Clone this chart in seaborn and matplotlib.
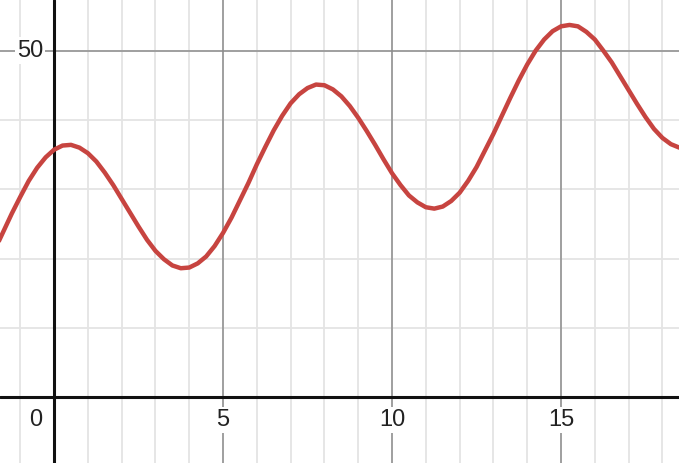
import matplotlib
matplotlib.use("Agg")
import matplotlib.pyplot as plt
import pandas as pd
import seaborn as sns

x_vals = [-2.0, -1.75, -1.5, -1.25, -1.0, -0.75, -0.5, -0.25,
          0.0, 0.25, 0.5, 0.75, 1.0, 1.25, 1.5, 1.75,
          2.0, 2.25, 2.5, 2.75, 3.0, 3.25, 3.5, 3.75,
          4.0, 4.25, 4.5, 4.75, 5.0, 5.25, 5.5, 5.75,
          6.0, 6.25, 6.5, 6.75, 7.0, 7.25, 7.5, 7.75,
          8.0, 8.25, 8.5, 8.75, 9.0, 9.25, 9.5, 9.75,
          10.0, 10.25, 10.5, 10.75, 11.0, 11.25, 11.5, 11.75,
          12.0, 12.25, 12.5, 12.75, 13.0, 13.25, 13.5, 13.75,
          14.0, 14.25, 14.5, 14.75, 15.0, 15.25, 15.5, 15.75,
          16.0, 16.25, 16.5, 16.75, 17.0, 17.25, 17.5, 17.75,
          18.0, 18.25, 18.5]
y_vals = [18.7, 21.3, 23.9, 26.5, 28.9, 31.2, 33.1, 34.6,
          35.7, 36.3, 36.4, 36.0, 35.2, 34.0, 32.4, 30.6,
          28.6, 26.6, 24.6, 22.7, 21.1, 19.9, 19.0, 18.6,
          18.7, 19.3, 20.3, 21.8, 23.7, 25.9, 28.4, 30.9,
          33.6, 36.1, 38.5, 40.6, 42.4, 43.7, 44.6, 45.1,
          45.0, 44.4, 43.4, 42.0, 40.3, 38.4, 36.4, 34.3,
          32.3, 30.6, 29.1, 28.1, 27.4, 27.2, 27.5, 28.3,
          29.5, 31.2, 33.2, 35.6, 38.0, 40.6, 43.2, 45.7,
          48.0, 50.0, 51.6, 52.8, 53.5, 53.7, 53.5, 52.7,
          51.6, 50.0, 48.3, 46.3, 44.3, 42.3, 40.4, 38.7,
          37.4, 36.5, 36.0]

x_ticks = [0, 5, 10, 15]
y_ticks = [50]

df = pd.DataFrame({"x": x_vals, "y": y_vals})

sns.set_style("white")
plt.rcParams['font.family'] = ['Liberation Sans', 'DejaVu Sans']

fig = plt.figure(figsize=(6.79, 4.63), dpi=100)
ax = fig.add_axes([0, 0, 1, 1])
ax.set_xlim(-1.6, 18.49)
ax.set_ylim(-9.5, 57.3)

# Minor grid (every 1 on x, every 10 on y)
for gx in range(-1, 19):
    ax.axvline(gx, color='#e4e4e4', lw=1.3, zorder=0)
for gy in range(0, 60, 10):
    ax.axhline(gy, color='#e4e4e4', lw=1.3, zorder=0)

# Major grid
for gx in [5, 10, 15]:
    ax.axvline(gx, color='#8c8c8c', lw=1.1, zorder=1)
ax.axhline(50, color='#8c8c8c', lw=1.1, zorder=1)

# Axis lines
ax.axvline(0, color='#111111', lw=2.2, zorder=2)
ax.axhline(0, color='#111111', lw=2.2, zorder=2)

sns.lineplot(data=df, x='x', y='y', ax=ax, color='#c74440', lw=3.2, zorder=5)

box = dict(facecolor='white', edgecolor='none', pad=1.5)
for t in x_ticks:
    xpos = -0.55 if t == 0 else t
    ax.text(xpos, -3.3, str(t), ha='center', va='center', fontsize=17,
            color='#222222', bbox=box, zorder=3)
for t in y_ticks:
    ax.text(-0.32, t, str(t), ha='right', va='center', fontsize=17,
            color='#222222', bbox=box, zorder=3)

ax.set_xticks([])
ax.set_yticks([])
ax.set_xlabel('')
ax.set_ylabel('')
for s in ax.spines.values():
    s.set_visible(False)

fig.savefig('out.png', dpi=100)
